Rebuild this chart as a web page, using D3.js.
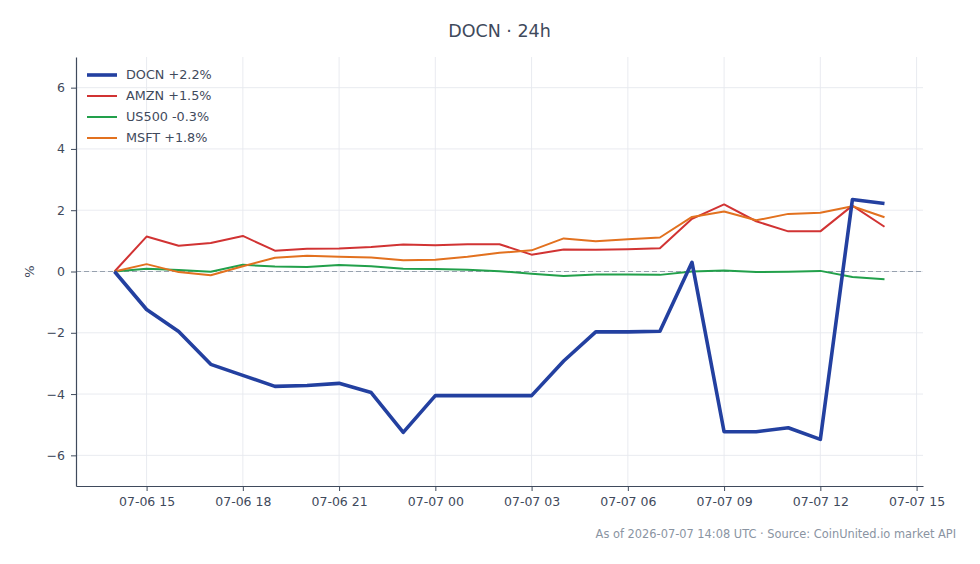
<!DOCTYPE html>
<meta charset="utf-8">
<script src="https://d3js.org/d3.v7.min.js"></script>
<body style="margin:0;background:#fff">
<svg width="980" height="564"></svg>
<style>
  text { font-family: "DejaVu Sans", sans-serif; fill: #3f4a5c; }
  .tick line { stroke: #3f4a5c; }
  .domain { stroke: #3f4a5c; }
</style>
<script>
    // hourly points, 2026-07-06 14:00 .. 2026-07-07 14:00 UTC
    var startTime = new Date(Date.UTC(2026, 6, 6, 14));
    var hours = d3.range(0, 25);

    var docn  = [0, -1.24, -1.96, -3.03, -3.39, -3.75, -3.72, -3.65, -3.95, -5.25, -4.05, -4.05, -4.05, -4.05,
                 -2.92, -1.97, -1.97, -1.95, 0.30, -5.23, -5.23, -5.10, -5.48, 2.35, 2.22];
    var amzn  = [0, 1.14, 0.84, 0.93, 1.16, 0.68, 0.74, 0.75, 0.80, 0.88, 0.86, 0.89, 0.89, 0.55,
                 0.72, 0.71, 0.73, 0.76, 1.72, 2.19, 1.64, 1.31, 1.31, 2.15, 1.46];
    var us500 = [0, 0.09, 0.05, -0.01, 0.22, 0.16, 0.15, 0.21, 0.17, 0.09, 0.08, 0.06, 0.01, -0.07,
                 -0.15, -0.10, -0.10, -0.11, 0.0, 0.03, -0.02, -0.01, 0.02, -0.18, -0.25];
    var msft  = [0, 0.24, -0.02, -0.12, 0.17, 0.45, 0.51, 0.48, 0.46, 0.37, 0.38, 0.48, 0.61, 0.69,
                 1.08, 0.99, 1.05, 1.11, 1.78, 1.96, 1.67, 1.88, 1.92, 2.13, 1.77];

    var seriesNames  = ["DOCN +2.2%", "AMZN +1.5%", "US500 -0.3%", "MSFT +1.8%"];
    var seriesValues = [docn, amzn, us500, msft];
    var colors = ["#2340a0", "#d13333", "#22a04b", "#e2711f"];
    var widths = [3.6, 2, 2, 2];
    var yTicks = [-6, -4, -2, 0, 2, 4, 6];

    var svg = d3.select('svg');
    var plotL = 76, plotR = 923, plotT = 57, plotB = 486;

    var times = hours.map(function(h){ return new Date(startTime.getTime() + h * 3600e3); });
    var pad = 1.2 * 3600e3;
    var x = d3.scaleUtc()
        .domain([new Date(times[0].getTime() - pad), new Date(times[times.length-1].getTime() + pad)])
        .range([plotL, plotR]);
    var y = d3.scaleLinear().domain([-7, 7]).range([plotB, plotT]);

    var xTicks = d3.range(0, 9).map(function(i){ return new Date(Date.UTC(2026, 6, 6, 15 + 3*i)); });
    var fmt = d3.utcFormat("%m-%d %H");

    // grid
    svg.append('g').selectAll('line').data(xTicks).enter().append('line')
        .attr('x1', x).attr('x2', x).attr('y1', plotT).attr('y2', plotB)
        .attr('stroke', '#e6e9ee').attr('stroke-width', 0.9);
    svg.append('g').selectAll('line').data(yTicks).enter().append('line')
        .attr('x1', plotL).attr('x2', plotR).attr('y1', y).attr('y2', y)
        .attr('stroke', '#e6e9ee').attr('stroke-width', 0.9);

    // zero line
    svg.append('line')
        .attr('x1', plotL).attr('x2', plotR).attr('y1', y(0)).attr('y2', y(0))
        .attr('stroke', '#97a1ae').attr('stroke-width', 1).attr('stroke-dasharray', '5,3');

    // axes
    var xAxis = svg.append('g').attr('transform', 'translate(0,' + plotB + ')')
        .call(d3.axisBottom(x).tickValues(xTicks).tickFormat(fmt).tickSize(5).tickPadding(6).tickSizeOuter(0));
    xAxis.selectAll('text').style('font-size', '12.5px');
    var yAxis = svg.append('g').attr('transform', 'translate(' + plotL + ',0)')
        .call(d3.axisLeft(y).tickValues(yTicks).tickFormat(function(d){ return d < 0 ? '\u2212' + (-d) : d; })
        .tickSize(5).tickPadding(6).tickSizeOuter(0));
    yAxis.selectAll('text').style('font-size', '12.5px');
    svg.selectAll('.domain').attr('stroke-width', 1.2);

    // lines
    var line = d3.line()
        .x(function(d, i){ return x(times[i]); })
        .y(function(d){ return y(d); });

    [1, 2, 3, 0].forEach(function(k){
        svg.append('path')
            .datum(seriesValues[k])
            .attr('fill', 'none')
            .attr('stroke', colors[k])
            .attr('stroke-width', widths[k])
            .attr('stroke-linejoin', 'round')
            .attr('d', line);
    });

    // legend
    var legend = svg.append('g');
    seriesNames.forEach(function(name, i){
        var ly = 75 + i * 21;
        legend.append('line').attr('x1', 87).attr('x2', 117).attr('y1', ly).attr('y2', ly)
            .attr('stroke', colors[i]).attr('stroke-width', widths[i]);
        legend.append('text').attr('x', 126).attr('y', ly).attr('dy', '0.35em')
            .style('font-size', '12.8px').text(name);
    });

    // labels
    svg.append('text').attr('x', (plotL + plotR) / 2).attr('y', 37).attr('text-anchor', 'middle')
        .style('font-size', '17.5px').text('DOCN \u00b7 24h');
    svg.append('text').attr('transform', 'translate(34,' + y(0) + ') rotate(-90)').attr('text-anchor', 'middle')
        .style('font-size', '13px').text('%');
    svg.append('text').attr('x', 956).attr('y', 538).attr('text-anchor', 'end')
        .style('font-size', '11.4px').style('fill', '#8a94a2')
        .text('As of 2026-07-07 14:08 UTC \u00b7 Source: CoinUnited.io market API');
</script>
</body>
